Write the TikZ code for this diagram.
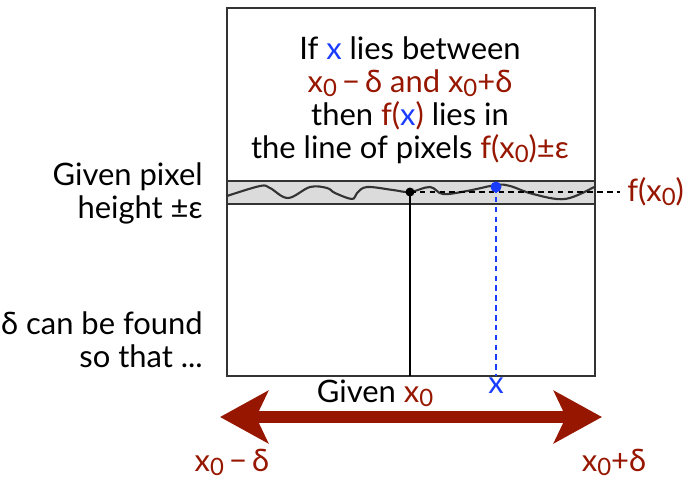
\documentclass[tikz,border=0pt]{standalone}
\usepackage{fontspec}
\setmainfont{Lato}
\usepackage{xcolor}
\usetikzlibrary{arrows.meta, positioning, calc}
\definecolor{darkred}{RGB}{150,22,0}
\definecolor{brightblue}{RGB}{25,60,255}
\newcommand{\zsub}{\raisebox{-0.25ex}{\fontsize{17}{17}\selectfont 0}}
\newcommand{\xo}{x\zsub}

\begin{document}
\begin{tikzpicture}[x=0.025cm, y=-0.025cm, >=Stealth,
					label/.style={font=\fontsize{22}{23.4}\selectfont, inner sep=0pt},
					frame/.style={draw=black!80, line width=1.2pt},
					band/.style={fill=black!14},
					graph/.style={draw=black!80, line width=1.5pt},
					bigarrow/.style={{Stealth[length=1.2cm, width=1.3cm, inset=0.3cm]}-{Stealth[length=1.2cm, width=1.3cm, inset=0.3cm]}, line width=0.3cm, darkred}
				]
					\useasboundingbox (0,0) rectangle (688,482);

					% Band and frame
					\fill[band] (227,181) rectangle (595,204);
					\draw[black!80, line width=1pt] (227,181) -- (595,181) (227,204) -- (595,204);
					\draw[frame] (227,8) rectangle (595,376);

					% Curve
					\draw[graph] plot[smooth, tension=0.6] coordinates {(227,196) (260,186) (270,188) (288,198) (310,187) (327,188) (335,193) (352,199) (357,193) (367,187) (393,190) (410,192) (430,187) (443,194) (467,191) (496,185) (510,186) (533,194) (565,199) (594,187)};

					% Points
					\coordinate (xzero) at (410,192);
					\coordinate (xzerobase) at (410,376);
					\coordinate (xpt) at (496,187);
					\coordinate (fend) at (620,192);
					\coordinate (left) at (220,417);
					\coordinate (right) at (602,417);

					% Lines
					\draw[line width=1.4pt] (xzero) -- (xzerobase);
					\draw[line width=1.4pt, dash pattern=on 4pt off 3pt] (xzero) -- (fend);
					\draw[brightblue, line width=1.4pt, dash pattern=on 4pt off 3pt] (xpt) -- (496,376);
					\fill (xzero) circle (4.5);
					\fill[brightblue] (xpt) circle (5.5);

					% Nodes
					\node[label, align=center] (claim) at (410,100) {If \textcolor{brightblue}{x} lies between\\ \textcolor{darkred}{\xo\,−\,δ and \xo+δ}\\ then \textcolor{darkred}{f(\textcolor{brightblue}{x})} lies in\\ the line of pixels \textcolor{darkred}{f(\xo)±ε}};
					\node[label, align=right, anchor=east] (given) at (203,193) {Given pixel\\ height ±ε};
					\node[label, align=right, anchor=east] (delta) at (203,340) {δ can be found\\ so that ...};
					\node[label, right=5pt of fend, darkred] (fx) {f(\xo)};
					\node[label, brightblue] (xlabel) at (496,386) {x};
					\node[label] (givenx) at (375,393) {Given \textcolor{darkred}{\xo}};
					\node[label, darkred] (lower) at (232,462) {\xo\,−\,δ};
					\node[label, darkred] (upper) at (614,462) {\xo+δ};

					% Arrows
					\draw[bigarrow] (left) -- (right);
				\end{tikzpicture}
\end{document}
